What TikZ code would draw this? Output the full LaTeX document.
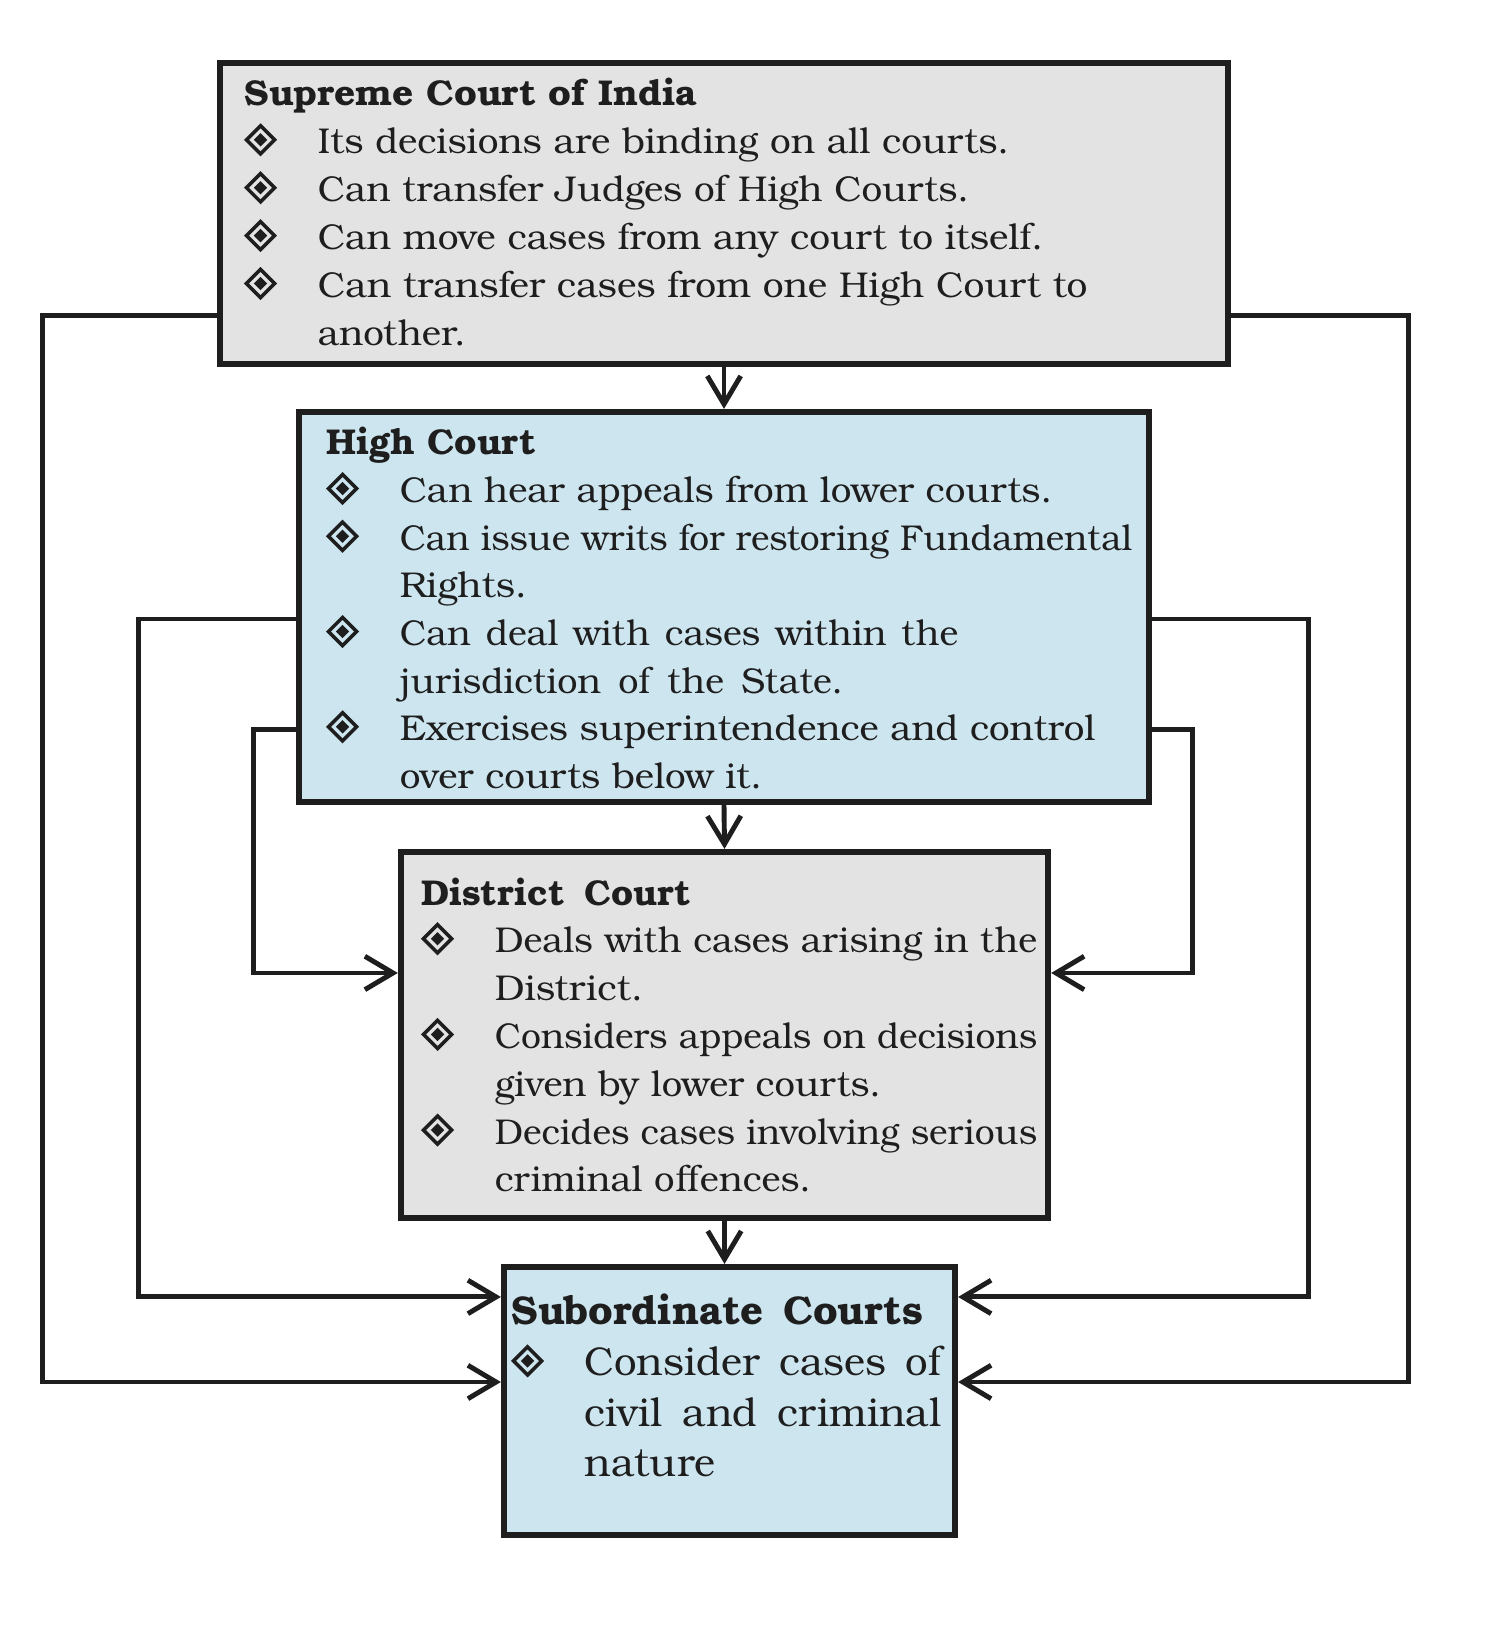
\documentclass[tikz,border=0pt]{standalone}
\usepackage{graphicx}
\usepackage{fontspec}
\setmainfont{texgyrebonum}[Extension=.otf, UprightFont=*-regular, BoldFont=*-bold, ItalicFont=*-italic, BoldItalicFont=*-bolditalic]
\usetikzlibrary{arrows.meta,calc}
\definecolor{boxgray}{HTML}{E3E3E3}
\definecolor{boxblue}{HTML}{CDE5EF}
\definecolor{ink}{HTML}{1E1E1E}
\newdimen\pxu \pxu=0.28453pt
\newbox\fitbox
\newcommand\fitw[2]{\setbox\fitbox=\hbox{#2}\pgfmathsetmacro\fitsx{#1*0.28453/\wd\fitbox}\scalebox{\fitsx}[1]{\box\fitbox}}
\newcommand\jw[2]{\makebox[#1\pxu][s]{#2}}
\newcommand{\bul}{\makebox[20.8pt][l]{\tikz[baseline=0pt,x=1pt,y=1pt]{%
  \draw[ink,line width=1pt,line join=miter] (0.5,4)--(4.5,8)--(8.5,4)--(4.5,0)--cycle;
  \fill[ink] (2.6,4)--(4.5,5.9)--(6.4,4)--(4.5,2.1)--cycle;}}}
\begin{document}
\begin{tikzpicture}[x=0.01cm,y=-0.01cm,
  court/.style={draw=ink, line width=1.7pt, rectangle, inner sep=0pt},
  txt/.style={anchor=base west, inner sep=0pt, text=ink},
  conn/.style={draw=ink, line width=1.4pt, -{Straight Barb[length=8pt,width=9.5pt,line width=1.4pt]}}]
\useasboundingbox (0,0) rectangle (1500,1637);
\fill[white] (0,0) rectangle (1500,1637);

% boxes
\node[court, fill=boxgray, minimum width=10.08cm, minimum height=3.01cm] (sct) at (724,213.5) {};
\node[court, fill=boxblue, minimum width=8.50cm, minimum height=3.90cm] (hc) at (724,607) {};
\node[court, fill=boxgray, minimum width=6.47cm, minimum height=3.66cm] (dc) at (724.5,1035) {};
\node[court, fill=boxblue, minimum width=4.51cm, minimum height=2.68cm] (sub) at (729.5,1401) {};

% texts
\node[txt, font=\fontsize{10.2}{13.62}\selectfont] (scttext) at (244,106) {\begin{tabular}[t]{@{}l@{}l@{}}
\multicolumn{2}{@{}l@{}}{\fitw{452}{\bfseries Supreme Court of India}}\\
\bul & \fitw{691}{Its decisions are binding on all courts.}\\
\bul & \fitw{651}{Can transfer Judges of High Courts.}\\
\bul & \fitw{725}{Can move cases from any court to itself.}\\
\bul & \fitw{769}{Can transfer cases from one High Court to}\\
 & \fitw{148}{another.}
\end{tabular}};

\node[txt, font=\fontsize{10.2}{13.55}\selectfont] (hctext) at (326,455) {\begin{tabular}[t]{@{}l@{}l@{}}
\multicolumn{2}{@{}l@{}}{\fitw{209}{\bfseries High Court}}\\
\bul & \fitw{652}{Can hear appeals from lower courts.}\\
\bul & \fitw{732}{Can issue writs for restoring Fundamental}\\
 & \fitw{127}{Rights.}\\
\bul & \jw{558}{Can deal with cases within the}\\
 & \jw{443}{jurisdiction of the State.}\\
\bul & \fitw{695}{Exercises superintendence and control}\\
 & \fitw{362}{over courts below it.}
\end{tabular}};

\node[txt, font=\fontsize{10.2}{13.6}\selectfont] (dctext) at (421,905) {\begin{tabular}[t]{@{}l@{}l@{}}
\multicolumn{2}{@{}l@{}}{\jw{269}{\bfseries District Court}}\\
\bul & \fitw{542}{Deals with cases arising in the}\\
 & \fitw{148}{District.}\\
\bul & \fitw{542}{Considers appeals on decisions}\\
 & \fitw{386}{given by lower courts.}\\
\bul & \fitw{542}{Decides cases involving serious}\\
 & \fitw{316}{criminal offences.}
\end{tabular}};

\node[txt, font=\fontsize{11.4}{14.5}\selectfont] (subtext) at (511,1324) {\begin{tabular}[t]{@{}l@{}l@{}}
\multicolumn{2}{@{}l@{}}{\jw{411}{\bfseries Subordinate Courts}}\\
\bul & \jw{356}{Consider cases of}\\
 & \jw{356}{civil and criminal}\\
 & nature
\end{tabular}};

% connectors
\draw[conn] (sct.south) -- (hc.north);
\draw[conn] (hc.south) -- (dc.north);
\draw[conn] (dc.south) -- (dc.south |- sub.north);
\draw[conn] ([yshift=0.52cm]sct.south west) -- ++(-174,0) |- ([yshift=0.19cm]sub.west);
\draw[conn] ([yshift=0.52cm]sct.south east) -- ++(177,0) |- ([yshift=0.19cm]sub.east);
\draw[conn] ([yshift=1.86cm]hc.south west) -- ++(-157,0) |- ([yshift=1.04cm]sub.west);
\draw[conn] ([yshift=1.86cm]hc.south east) -- ++(156,0) |- ([yshift=1.04cm]sub.east);
\draw[conn] ([yshift=0.76cm]hc.south west) -- ++(-42,0) |- ([yshift=0.62cm]dc.west);
\draw[conn] ([yshift=0.76cm]hc.south east) -- ++(40,0) |- ([yshift=0.62cm]dc.east);
\end{tikzpicture}
\end{document}
